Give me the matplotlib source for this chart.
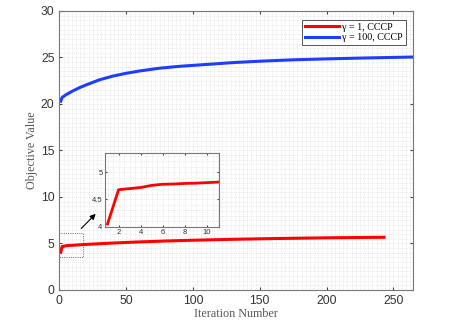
import matplotlib.pyplot as plt
from matplotlib.ticker import MultipleLocator

# red curve, gamma = 1 (sampled points off the picture)
iter_g1 = [1, 2, 3, 4, 5, 6, 7, 8, 9, 10, 11, 20, 40, 60, 80, 100, 130, 160, 200, 243]
obj_g1 = [4.05, 4.68, 4.70, 4.72, 4.76, 4.78, 4.785, 4.795, 4.80, 4.81, 4.82,
          4.90, 5.05, 5.17, 5.27, 5.35, 5.45, 5.53, 5.61, 5.67]

# blue curve, gamma = 100
iter_g100 = [1, 2, 3, 5, 10, 15, 20, 30, 40, 50, 60, 75, 90, 110, 130, 150, 175, 200, 230, 265]
obj_g100 = [20.3, 20.7, 20.8, 21.0, 21.4, 21.75, 22.05, 22.6, 23.0, 23.3, 23.55, 23.85,
            24.05, 24.25, 24.45, 24.6, 24.75, 24.85, 24.95, 25.05]

serif = ['Liberation Serif', 'DejaVu Serif']
sans = ['Liberation Sans', 'DejaVu Sans']

fig = plt.figure(figsize=(4.57, 3.22), dpi=100)
ax = fig.add_axes([0.130, 0.0994, 0.7746, 0.8665])

ax.plot(iter_g1, obj_g1, color='#ff0000', lw=2.2, label='γ = 1, CCCP')
ax.plot(iter_g100, obj_g100, color='#1f3dff', lw=2.2, label='γ = 100, CCCP')

ax.set_xlim(0, 265)
ax.set_ylim(0, 30)
ax.xaxis.set_major_locator(MultipleLocator(50))
ax.yaxis.set_major_locator(MultipleLocator(5))
ax.xaxis.set_minor_locator(MultipleLocator(3.125))
ax.yaxis.set_minor_locator(MultipleLocator(0.5))
ax.grid(which='both', color='#dadada', linestyle=':', linewidth=0.5)
ax.tick_params(which='both', direction='in', top=True, right=True, labelsize=8.7,
               color='#444444', length=2.5)
ax.tick_params(which='minor', length=0)
for lab in ax.get_xticklabels() + ax.get_yticklabels():
    lab.set_family(sans)
    lab.set_color('#333333')
for s in ax.spines.values():
    s.set_color('#777777')
    s.set_linewidth(0.8)

ax.set_xlabel('Iteration Number', family=serif, fontsize=8.7, color='#555555', labelpad=1)
ax.set_ylabel('Objective Value', family=serif, fontsize=8.7, color='#555555', labelpad=2)

leg = ax.legend(loc='upper right', bbox_to_anchor=(0.985, 0.975), prop={'family': serif, 'size': 7.2},
                fancybox=False, edgecolor='#555555', handlelength=3.4, handletextpad=0.3,
                borderpad=0.3, labelspacing=0.15, borderaxespad=0.2, framealpha=1)
leg.get_frame().set_linewidth(0.7)

# dotted zoom box and arrow
ax.plot([0, 18, 18, 0], [6.1, 6.1, 3.5, 3.5], color='#444444', lw=0.6, ls=':')
ax.annotate('', xy=(28.6, 8.4), xytext=(14.9, 6.4),
            arrowprops=dict(arrowstyle='-|>', color='black', lw=0.8, mutation_scale=8))

# inset
ins = fig.add_axes([0.2304, 0.296, 0.2495, 0.2298])
ins.plot(iter_g1, obj_g1, color='#ff0000', lw=2.0)
ins.set_xlim(0.8, 11.1)
ins.set_ylim(4, 5.36)
ins.xaxis.set_major_locator(MultipleLocator(2))
ins.yaxis.set_major_locator(MultipleLocator(0.5))
ins.xaxis.set_minor_locator(MultipleLocator(0.5))
ins.yaxis.set_minor_locator(MultipleLocator(0.1))
ins.grid(which='both', color='#dadada', linestyle=':', linewidth=0.5)
ins.tick_params(which='both', direction='in', top=True, right=True, labelsize=5.5,
                color='#444444', length=1.5, pad=2)
ins.tick_params(which='minor', length=0)
ins.set_yticks([4, 4.5, 5])
ins.set_yticklabels(['4', '4.5', '5'])
for lab in ins.get_xticklabels() + ins.get_yticklabels():
    lab.set_family(sans)
    lab.set_color('#333333')
for s in ins.spines.values():
    s.set_color('#777777')
    s.set_linewidth(0.8)

fig.savefig('out.png', dpi=100)
